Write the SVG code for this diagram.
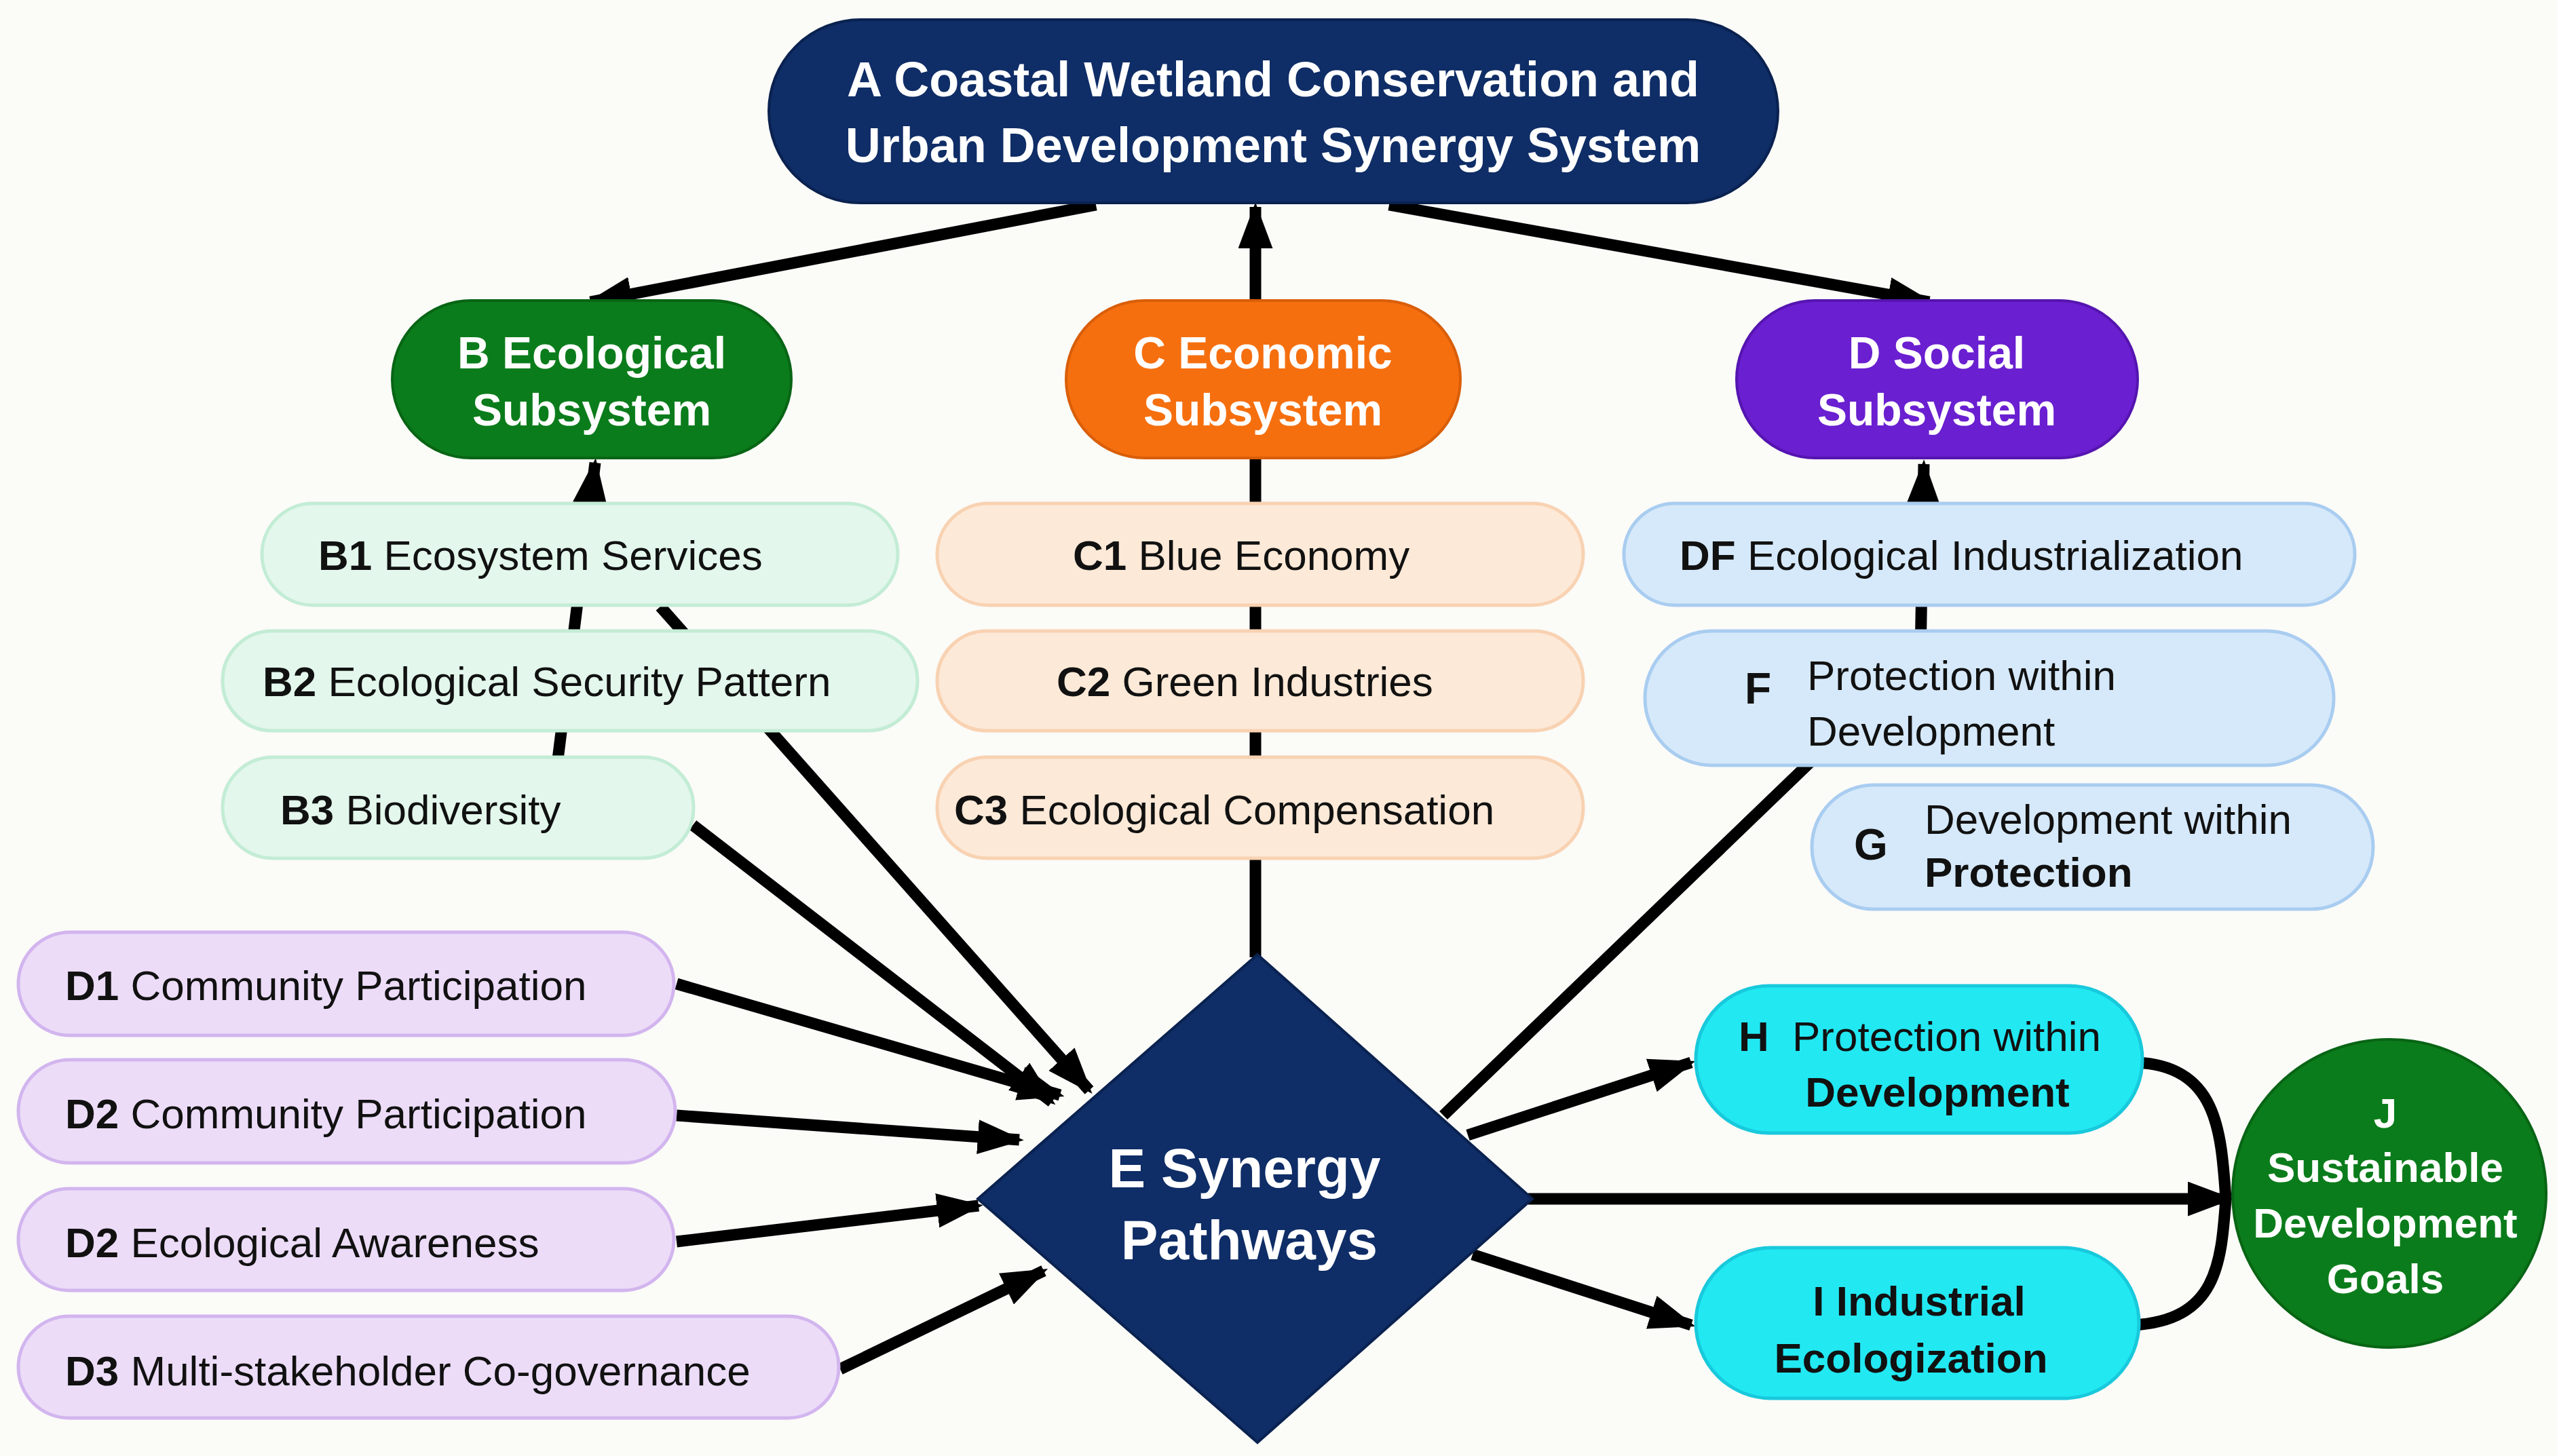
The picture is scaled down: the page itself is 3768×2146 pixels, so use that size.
<svg xmlns="http://www.w3.org/2000/svg" width="3768" height="2146" viewBox="0 0 3768 2146">
<style>
text{font-family:"Liberation Sans",Arial,sans-serif;fill:#111}
.w{fill:#fff;font-weight:bold}
.b{font-weight:bold}
.t{font-size:62px}
.c{stroke:#000;stroke-width:17;fill:none;marker-end:url(#ah)}
.n{stroke:#000;stroke-width:17;fill:none}
.bl{fill:#e3f7ec;stroke:#c3ecd5;stroke-width:5}
.cl{fill:#fde9d7;stroke:#f8d2b2;stroke-width:5}
.dl{fill:#d6e9fa;stroke:#a9cdf0;stroke-width:5}
.pl{fill:#ecdcf8;stroke:#d2b5ee;stroke-width:5}
.cy{fill:#22e8f2;stroke:#18c9dc;stroke-width:5}
</style>
<defs>
<marker id="ah" markerUnits="strokeWidth" markerWidth="4" markerHeight="3" refX="3.6" refY="1.5" orient="auto">
<path d="M0,0 L4,1.5 L0,3 z" fill="#000"/>
</marker>
</defs>
<rect width="3768" height="2146" fill="#fbfbf8"/>
<g id="connectors">
<line class="c" x1="1615" y1="302" x2="870" y2="445"/>
<line class="c" x1="1850" y1="445" x2="1850" y2="305"/>
<line class="c" x1="2047" y1="302" x2="2843" y2="445"/>
<line class="n" x1="1850" y1="1411" x2="1850" y2="677"/>
<line class="c" x1="822" y1="1119" x2="877" y2="682"/>
<line class="c" x1="973" y1="894" x2="1605" y2="1607"/>
<line class="c" x1="1021" y1="1216" x2="1550" y2="1624"/>
<path class="c" d="M2127,1644 L2830,967 L2835,684"/>
<line class="c" x1="997" y1="1450" x2="1562" y2="1614"/>
<line class="c" x1="997" y1="1644" x2="1502" y2="1680"/>
<line class="c" x1="997" y1="1830" x2="1442" y2="1777"/>
<line class="c" x1="1238" y1="2018" x2="1538" y2="1873"/>
<line class="c" x1="2163" y1="1673" x2="2492" y2="1566"/>
<line class="c" x1="2252" y1="1767" x2="3285" y2="1767"/>
<line class="c" x1="2170" y1="1849" x2="2492" y2="1953"/>
<path class="n" d="M3148,1566 C3268,1571 3273,1668 3280,1767"/>
<path class="n" d="M3143,1953 C3268,1946 3273,1861 3280,1767"/>
</g>
<g id="A"><rect x="1133" y="29" width="1487" height="270" rx="135" fill="#0f2d66" stroke="#0a2250" stroke-width="4"/>
<text class="w" x="1876" y="142" font-size="72" text-anchor="middle">A Coastal Wetland Conservation and</text>
<text class="w" x="1876" y="239" font-size="72" text-anchor="middle">Urban Development Synergy System</text></g>
<g id="B"><rect x="578" y="443" width="588" height="232" rx="116" fill="#0b7c1b" stroke="#086515" stroke-width="4"/>
<text class="w" x="872" y="543" font-size="66" text-anchor="middle">B Ecological</text>
<text class="w" x="872" y="627" font-size="66" text-anchor="middle">Subsystem</text></g>
<g id="C"><rect x="1571" y="443" width="581" height="232" rx="116" fill="#f56f0f" stroke="#d95e08" stroke-width="4"/>
<text class="w" x="1861" y="543" font-size="66" text-anchor="middle">C Economic</text>
<text class="w" x="1861" y="627" font-size="66" text-anchor="middle">Subsystem</text></g>
<g id="D"><rect x="2559" y="443" width="591" height="232" rx="116" fill="#6a1fd0" stroke="#5515b0" stroke-width="4"/>
<text class="w" x="2854" y="543" font-size="66" text-anchor="middle">D Social</text>
<text class="w" x="2854" y="627" font-size="66" text-anchor="middle">Subsystem</text></g>
<g id="B1"><rect class="bl" x="386" y="742" width="937" height="150" rx="75"/>
<text class="t" x="469" y="840"><tspan class="b">B1</tspan> Ecosystem Services</text></g>
<g id="B2"><rect class="bl" x="328" y="930" width="1024" height="147" rx="73"/>
<text class="t" x="387" y="1026"><tspan class="b">B2</tspan> Ecological Security Pattern</text></g>
<g id="B3"><rect class="bl" x="328" y="1116" width="694" height="149" rx="74"/>
<text class="t" x="413" y="1215"><tspan class="b">B3</tspan> Biodiversity</text></g>
<g id="C1"><rect class="cl" x="1381" y="742" width="952" height="150" rx="75"/>
<text class="t" x="1581" y="840"><tspan class="b">C1</tspan> Blue Economy</text></g>
<g id="C2"><rect class="cl" x="1381" y="930" width="952" height="147" rx="73"/>
<text class="t" x="1557" y="1026"><tspan class="b">C2</tspan> Green Industries</text></g>
<g id="C3"><rect class="cl" x="1381" y="1116" width="952" height="149" rx="74"/>
<text class="t" x="1406" y="1215"><tspan class="b">C3</tspan> Ecological Compensation</text></g>
<g id="DF"><rect class="dl" x="2393" y="742" width="1077" height="150" rx="75"/>
<text class="t" x="2475" y="840"><tspan class="b">DF</tspan> Ecological Industrialization</text></g>
<g id="F"><rect class="dl" x="2424" y="930" width="1015" height="198" rx="99"/>
<text class="b" x="2571" y="1037" font-size="64">F</text>
<text class="t" x="2663" y="1017">Protection within</text>
<text class="t" x="2663" y="1099">Development</text></g>
<g id="G"><rect class="dl" x="2670" y="1157" width="827" height="183" rx="91"/>
<text class="b" x="2732" y="1267" font-size="64">G</text>
<text class="t" x="2836" y="1229">Development within</text>
<text class="t b" x="2836" y="1307">Protection</text></g>
<g id="D1"><rect class="pl" x="27" y="1374" width="966" height="152" rx="76"/>
<text class="t" x="96" y="1474"><tspan class="b">D1</tspan> Community Participation</text></g>
<g id="D2a"><rect class="pl" x="27" y="1562" width="968" height="152" rx="76"/>
<text class="t" x="96" y="1663"><tspan class="b">D2</tspan> Community Participation</text></g>
<g id="D2b"><rect class="pl" x="27" y="1752" width="966" height="150" rx="75"/>
<text class="t" x="96" y="1853"><tspan class="b">D2</tspan>  Ecological Awareness</text></g>
<g id="D3"><rect class="pl" x="27" y="1940" width="1209" height="150" rx="75"/>
<text class="t" x="96" y="2042"><tspan class="b">D3</tspan> Multi-stakeholder Co-governance</text></g>
<g id="E"><polygon points="1853,1407 2258,1767 1853,2126 1441,1767" fill="#0f2d66" stroke="#0a2250" stroke-width="4"/>
<text class="w" x="1834" y="1750" font-size="82" text-anchor="middle">E Synergy</text>
<text class="w" x="1841" y="1856" font-size="82" text-anchor="middle">Pathways</text></g>
<g id="H"><rect class="cy" x="2499" y="1453" width="658" height="217" rx="108"/>
<text class="t b" x="2562" y="1549">H</text>
<text class="t" x="2641" y="1549">Protection within</text>
<text class="t b" x="2855" y="1631" text-anchor="middle">Development</text></g>
<g id="I"><rect class="cy" x="2499" y="1839" width="653" height="222" rx="111"/>
<text class="t b" x="2828" y="1939" text-anchor="middle">I  Industrial</text>
<text class="t b" x="2816" y="2023" text-anchor="middle">Ecologization</text></g>
<g id="J"><ellipse cx="3521" cy="1759" rx="231" ry="227" fill="#0b7c1b" stroke="#086515" stroke-width="4"/>
<text class="t w" x="3515" y="1662" text-anchor="middle">J</text>
<text class="t w" x="3515" y="1742" text-anchor="middle">Sustainable</text>
<text class="t w" x="3515" y="1824" text-anchor="middle">Development</text>
<text class="t w" x="3515" y="1906" text-anchor="middle">Goals</text></g>
</svg>
